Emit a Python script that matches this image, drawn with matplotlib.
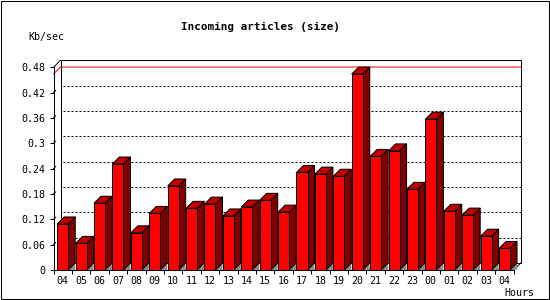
import matplotlib
matplotlib.use("Agg")
import matplotlib.pyplot as plt
from matplotlib.patches import Polygon, Rectangle

hours = ["04", "05", "06", "07", "08", "09", "10", "11", "12", "13", "14", "15", "16",
         "17", "18", "19", "20", "21", "22", "23", "00", "01", "02", "03", "04"]
kb_per_sec = [0.109, 0.063, 0.158, 0.251, 0.088, 0.134, 0.199, 0.146, 0.156, 0.128,
              0.149, 0.165, 0.137, 0.231, 0.227, 0.222, 0.464, 0.269, 0.282, 0.191,
              0.357, 0.139, 0.130, 0.080, 0.051]
y_ticks = [0, 0.06, 0.12, 0.18, 0.24, 0.3, 0.36, 0.42, 0.48]
y_tick_labels = ["0", "0.06", "0.12", "0.18", "0.24", "0.3", "0.36", "0.42", "0.48"]

FONT = "DejaVu Sans Mono"
W, H = 550, 300
FRONT = "#ff0000"
SIDE = "#800000"
TOP = "#c00000"
SHADOW = "#8c8c8c"
LW = 0.72  # one pixel

fig = plt.figure(figsize=(W / 100, H / 100), dpi=100)
ax = fig.add_axes([53.5 / W, 30 / H, 460.2 / W, 202.7 / H])
n = len(hours)
ax.set_xlim(-0.5, n - 0.5)
ax.set_ylim(0, 0.48)
ax.set_facecolor("none")

# 3d depth of 7 px expressed in data units
inv = ax.transData.inverted()
(x0, y0), (x1, y1) = inv.transform([(0, 0), (7, 7)])
dx, dy = x1 - x0, y1 - y0
xl, xr, ytop = -0.5, n - 0.5, 0.48

# back wall + side edges
ax.add_patch(Rectangle((xl + dx, dy), xr - xl, ytop, fill=False, ec="black",
                       lw=LW, clip_on=False, zorder=1))
ax.plot([xl, xl + dx], [ytop, ytop + dy], color="black", lw=LW, clip_on=False, zorder=1)
ax.plot([xr, xr + dx], [0, dy], color="black", lw=LW, clip_on=False, zorder=1)

# dotted grid on back wall
for t in y_ticks[1:-1]:
    ax.plot([xl + dx * 1.3, xr + dx], [t + dy, t + dy], color="black", lw=LW,
            ls=(0, (2, 2)), clip_on=False, zorder=1)
    ax.plot([xl, xl + dx * 0.3], [t, t + dy * 0.3], color="black", lw=LW,
            clip_on=False, zorder=1)

# max line
vmax = max(kb_per_sec)
ax.plot([xl, xl + dx, xr + dx], [vmax, vmax + dy, vmax + dy], color="#ff0000",
        lw=LW, clip_on=False, zorder=1.5)

# bars
bw = 0.6
for i, v in enumerate(kb_per_sec):
    l, r = i - bw / 2, i + bw / 2
    ax.add_patch(Polygon([(r, 0), (r + dx, dy), (r + dx, 0)], closed=True,
                         fc=SHADOW, ec="none", clip_on=False, zorder=2))
    ax.add_patch(Polygon([(r, 0), (r + dx, dy), (r + dx, v + dy), (r, v)], closed=True,
                         fc=SIDE, ec="black", lw=LW, clip_on=False, zorder=3))
    ax.add_patch(Polygon([(l, v), (l + dx, v + dy), (r + dx, v + dy), (r, v)], closed=True,
                         fc=TOP, ec="black", lw=LW, clip_on=False, zorder=3))
    ax.add_patch(Rectangle((l, 0), bw, v, fc=FRONT, ec="black", lw=LW,
                           clip_on=False, zorder=4))

# axes
for s in ["top", "right"]:
    ax.spines[s].set_visible(False)
for s in ["left", "bottom"]:
    ax.spines[s].set_linewidth(LW)
    ax.spines[s].set_zorder(5)
ax.set_yticks(y_ticks, y_tick_labels, fontfamily=FONT, fontsize=7.2)
ax.set_xticks(range(n), hours, fontfamily=FONT, fontsize=7.2)
ax.set_xticks([i + 0.5 for i in range(-1, n)], minor=True)
ax.tick_params(axis="x", which="major", length=0, pad=4.5)
ax.tick_params(axis="x", which="minor", length=3, width=LW, direction="out")
ax.tick_params(axis="y", length=3, width=LW, direction="out", pad=3)

fig.text(260.5 / W, 1 - 27 / H, "Incoming articles (size)", ha="center", va="center",
         fontfamily=FONT, fontweight="bold", fontsize=7.9)
fig.text(28 / W, 1 - 37 / H, "Kb/sec", ha="left", va="center", fontfamily=FONT, fontsize=7.2)
fig.text(534 / W, 1 - 292.5 / H, "Hours", ha="right", va="center", fontfamily=FONT, fontsize=7.2)

fig.patches.append(Rectangle((0.5 / W, 1.5 / H), 548 / W, 298 / H, transform=fig.transFigure,
                             fill=False, ec="black", lw=LW))

fig.savefig("out.png", dpi=100)
